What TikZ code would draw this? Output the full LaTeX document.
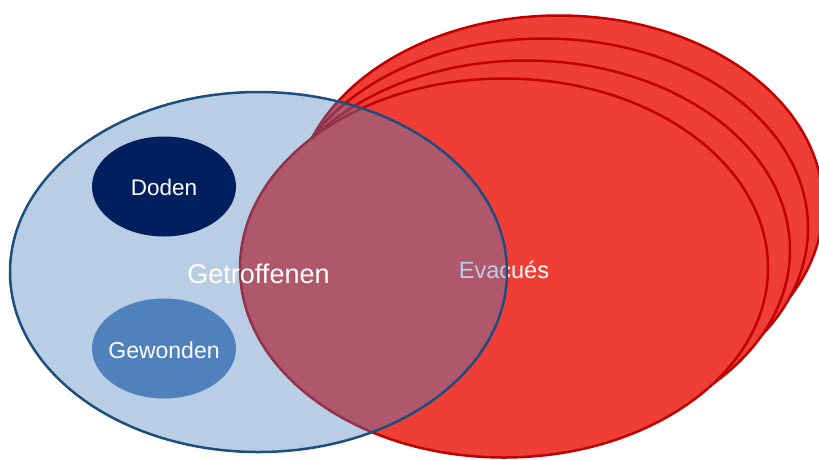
\documentclass[tikz,border=0pt]{standalone}
\usepackage{fontspec}
\setmainfont{Liberation Sans}
\usetikzlibrary{shapes.geometric}
\definecolor{redfill}{HTML}{EF3E36}
\definecolor{redline}{HTML}{C00000}
\definecolor{bluefill}{HTML}{4F81BD}
\definecolor{blueline}{HTML}{1F4E7E}
\definecolor{navy}{HTML}{001F5F}
\definecolor{midblue}{HTML}{4F81BD}
\newcommand{\placetext}[2]{\raisebox{#1}[0pt][0pt]{\makebox[0pt]{#2}}}
\tikzset{
  redset/.style={ellipse, draw=redline, fill=redfill, line width=2.5pt,
    minimum width=528pt, minimum height=379pt, inner sep=0pt, text=white},
  blueset/.style={ellipse, draw=blueline, fill=bluefill, fill opacity=0.4,
    draw opacity=1, text opacity=1, line width=2.5pt,
    minimum width=497pt, minimum height=360pt, inner sep=0pt, text=white},
  subset/.style={ellipse, minimum width=144pt, minimum height=100pt,
    inner sep=0pt, text=white}
}
\begin{document}
\begin{tikzpicture}[x=1pt,y=-1pt]
\clip (0,0) rectangle (819,459);
\node[redset] (r4) at (559,205) {};
\node[redset] (r3) at (544,228) {};
\node[redset] (r2) at (526,250) {};
\node[redset, font=\fontsize{23.5}{28}\selectfont] (r1) at (504,268) {\placetext{-10.5pt}{Evacués}};
\node[blueset, font=\fontsize{27}{32}\selectfont] (getr) at (258.5,272) {\placetext{-11.5pt}{Getroffenen}};
\node[subset, fill=navy, font=\fontsize{22.5}{27}\selectfont] (doden) at (164,186.5) {\placetext{-8.5pt}{Doden}};
\node[subset, fill=midblue, font=\fontsize{23}{27}\selectfont] (gew) at (164,348.5) {\placetext{-9.5pt}{Gewonden}};
\end{tikzpicture}
\end{document}
